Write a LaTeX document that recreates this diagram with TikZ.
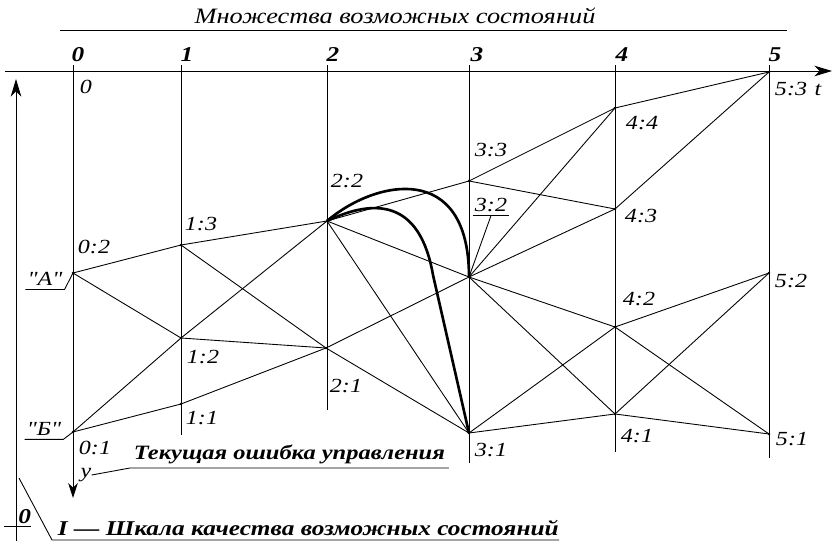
\documentclass[tikz,border=0pt]{standalone}
\usepackage{fontspec}
\usetikzlibrary{arrows.meta}
\newfontfamily\gost[FakeStretch=1.2,Ligatures=TeXOff]{Liberation Serif}
\tikzset{
  edge/.style={line width=0.5pt},
  bestpath/.style={line width=1.5pt, line join=round},
  axisarrow/.style={-{Stealth[length=10pt,width=6pt,inset=3pt]}},
  lab/.style={font=\gost\itshape\fontsize{11.4}{11.4}\selectfont, inner sep=0pt},
  head/.style={font=\gost\bfseries\itshape\fontsize{12}{12}\selectfont, inner sep=0pt},
  capt/.style={font=\gost\itshape\fontsize{12.5}{12.5}\selectfont, inner sep=0pt},
  bcapt/.style={font=\gost\bfseries\itshape\fontsize{12}{12}\selectfont, inner xsep=2pt, inner ysep=2pt},
  ulab/.style={lab, inner xsep=1pt, inner ysep=2pt}
}
\begin{document}
\begin{tikzpicture}[x=0.02cm,y=-0.02cm]
  \useasboundingbox (0,0) rectangle (833,541);

  % axes
  \draw[edge,axisarrow] (5,71) -- (832,71);
  \draw[edge,axisarrow] (16,541) -- (16,79);
  \node[lab] (lt) at (818,90) {t};

  % columns (time steps)
  \draw[edge,-{Stealth[length=8.5pt,width=5.5pt,inset=2.6pt]}] (73,65) -- (73,498);
  \foreach \x/\yb in {181/435,327/410,469/463,615/452,769/458}
    \draw[edge] (\x,65) -- (\x,\yb);
  \foreach \i/\x in {0/78,1/187,2/333,3/477,4/622,5/775}
    \node[head] (h\i) at (\x,55) {\i};

  % title
  \node[capt] (title) at (395,16) {Множества возможных состояний};
  \draw[edge] (60,30) -- (787,30);

  % states
  \foreach \n/\x/\y in {s02/73/273,s01/73/432,s13/181/245,s12/181/338,s11/181/404,
      s22/327/221,s21/326/348,s33/469/181,s32/469/277,s31/469/433,
      s44/615/108,s43/615/209,s42/615/327,s41/615/414,
      s53/769/72,s52/769/273,s51/769/434} {
    \coordinate (\n) at (\x,\y);
    \fill (\n) circle (1.3);
  }

  % transitions
  \foreach \a/\b in {s02/s13,s02/s12,s01/s12,s01/s11,
      s13/s22,s13/s21,s12/s22,s12/s21,s11/s21,
      s22/s33,s22/s32,s22/s31,s21/s32,s21/s31,
      s33/s44,s33/s43,s32/s44,s32/s43,s32/s42,s32/s41,s31/s42,s31/s41,
      s44/s53,s43/s53,s42/s52,s42/s51,s41/s52,s41/s51}
    \draw[edge] (\a) -- (\b);

  % best paths
  \coordinate (bend) at (433,275);
  \draw[bestpath] (s22) .. controls (375,180) and (469,160) .. (s32);
  \draw[bestpath] (s22) .. controls (375,198) and (420,200) .. (bend) -- (s31);

  % state labels
  \node[lab] (l0) at (86,87) {0};
  \foreach \n/\t/\x/\y in {l02/0:2/94/247, l01/0:1/95/448,
      l13/1:3/201/224, l12/1:2/203/357, l11/1:1/202/418,
      l22/2:2/347/181, l21/2:1/346/386,
      l33/3:3/491/150, l31/3:1/491/450,
      l44/4:4/642/123, l43/4:3/641/216, l42/4:2/639/299, l41/4:1/637/436,
      l53/5:3/791/89, l52/5:2/791/281, l51/5:1/792/439}
    \node[lab] (\n) at (\x,\y) {\t};
  \node[ulab] (l32) at (491,205) {3:2};
  \draw[edge] (l32.south west) -- (l32.south east);
  \draw[edge] (l32.south) -- (s32);

  % start states
  \node[ulab] (lA) at (45,279) {"А"};
  \draw[edge] (lA.south west) -- (lA.south east) -- (s02);
  \node[ulab] (lB) at (44,429) {"Б"};
  \draw[edge] (lB.south west) -- (lB.south east) -- (s01);

  % y axis and error
  \node[lab] (ly) at (86,475) {y};
  \node[bcapt, anchor=south west, font=\gost\bfseries\itshape\fontsize{11.6}{11.6}\selectfont] (lErr) at (130,468) {Текущая ошибка управления};
  \draw[edge] (ly.east) -- (lErr.south west) -- (lErr.south east);

  % quality scale
  \coordinate (zTick) at (4,526);
  \node[head, anchor=south west, inner ysep=1pt] (lZero) at (18,526) {0};
  \draw[edge] (zTick) -- (lZero.south east);
  \coordinate (iTip) at (19,478);
  \node[bcapt, anchor=south west, inner xsep=0pt] (lScale) at (52,540) {\hspace{8\pgflinewidth}I — Шкала качества возможных состояний};
  \draw[edge] (iTip) -- (lScale.south west) -- (lScale.south east);
\end{tikzpicture}
\end{document}
